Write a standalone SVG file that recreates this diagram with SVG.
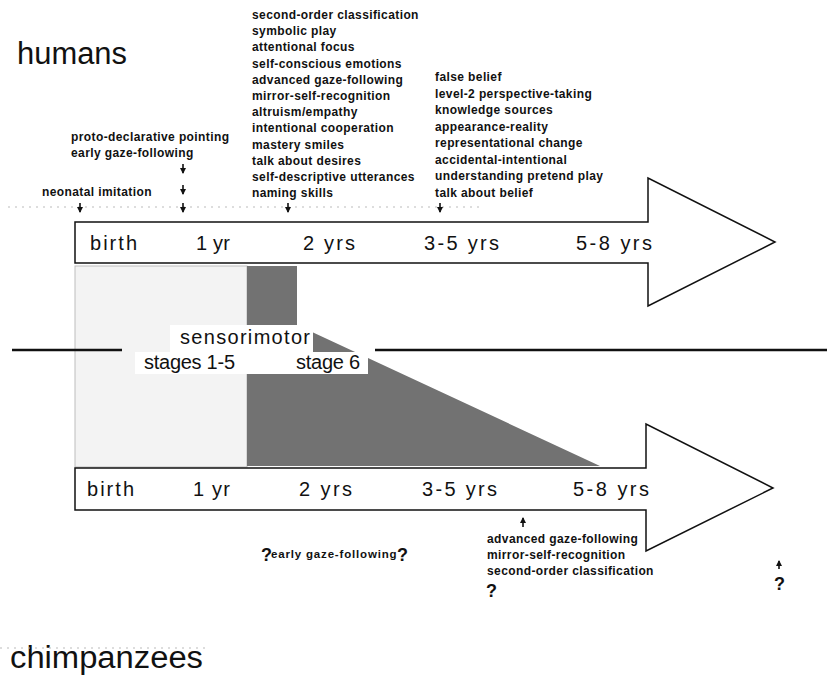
<svg xmlns="http://www.w3.org/2000/svg" width="827" height="678" viewBox="0 0 827 678">
<defs>
<style>
.sm{font-family:"Liberation Sans",Arial,sans-serif;font-weight:bold;font-size:12px;letter-spacing:0.4px;fill:#111}
.ax{font-family:"Liberation Sans",Arial,sans-serif;font-size:20px;fill:#111}
.big{font-family:"Liberation Sans",Arial,sans-serif;font-size:31px;fill:#111}
.q{font-family:"Liberation Sans",Arial,sans-serif;font-weight:bold;font-size:18px;fill:#111}
.tl{fill:#fff;stroke:#111;stroke-width:1.5}
.conn{stroke:#111;stroke-width:1.6;fill:none}
.faint{stroke:#bbb;stroke-width:1;stroke-dasharray:2 5;fill:none}
</style>
<marker id="ah" markerUnits="userSpaceOnUse" markerWidth="6" markerHeight="6" refX="5" refY="3" orient="auto" viewBox="0 0 6 6">
<path d="M0,0 L6,3 L0,6 Z" fill="#111"/>
</marker>
</defs>
<rect width="827" height="678" fill="#fff"/>

<g id="title-humans"><text class="big" x="17" y="64" textLength="110" lengthAdjust="spacingAndGlyphs">humans</text></g>
<g id="title-chimpanzees"><text class="big" x="10" y="668" textLength="193" lengthAdjust="spacingAndGlyphs">chimpanzees</text></g>

<g id="faint-lines">
<path class="faint" d="M8,207 H480"/>
<path class="faint" d="M0,648 H210"/>
</g>

<g id="sensorimotor">
<rect x="75" y="266" width="172" height="201" fill="#f3f3f3" stroke="#bdbdbd" stroke-width="1"/>
<polygon points="247,266 297,266 297,325 600,466 247,466" fill="#727272"/>
<rect x="170" y="325" width="143" height="28" fill="#fff"/>
<rect x="135" y="352" width="233" height="22" fill="#fff"/>
<text class="ax" x="180" y="344" textLength="130" lengthAdjust="spacing">sensorimotor</text>
<text class="ax" x="144" y="369" textLength="91" lengthAdjust="spacing">stages 1-5</text>
<text class="ax" x="296" y="369" textLength="64" lengthAdjust="spacing">stage 6</text>
</g>

<g id="divider">
<path d="M12,350 H122 M375,350 H827" stroke="#111" stroke-width="2.6" fill="none"/>
</g>

<g id="timeline-humans">
<path class="tl" d="M75,222 H648 V178 L775,242 L648,306 V263 H75 Z"/>
<text class="ax" x="90" y="250" textLength="47" lengthAdjust="spacing">birth</text>
<text class="ax" x="196" y="250" textLength="34" lengthAdjust="spacing">1 yr</text>
<text class="ax" x="303" y="250" textLength="52" lengthAdjust="spacing">2 yrs</text>
<text class="ax" x="424" y="250" textLength="75" lengthAdjust="spacing">3-5 yrs</text>
<text class="ax" x="576" y="250" textLength="76" lengthAdjust="spacing">5-8 yrs</text>
</g>

<g id="timeline-chimpanzees">
<path class="tl" d="M75,468 H646 V424 L773,488 L646,551 V510 H75 Z"/>
<text class="ax" x="87" y="496" textLength="47" lengthAdjust="spacing">birth</text>
<text class="ax" x="193" y="496" textLength="37" lengthAdjust="spacing">1 yr</text>
<text class="ax" x="299" y="496" textLength="53" lengthAdjust="spacing">2 yrs</text>
<text class="ax" x="422" y="496" textLength="75" lengthAdjust="spacing">3-5 yrs</text>
<text class="ax" x="573" y="496" textLength="76" lengthAdjust="spacing">5-8 yrs</text>
</g>

<g id="label-neonatal"><text class="sm" x="42" y="196">neonatal imitation</text></g>
<g id="label-1yr">
<text class="sm" x="71" y="141">proto-declarative pointing</text>
<text class="sm" x="71" y="157">early gaze-following</text>
</g>
<g id="label-2yrs">
<text class="sm" x="252" y="19">second-order classification</text>
<text class="sm" x="252" y="35.2">symbolic play</text>
<text class="sm" x="252" y="51.4">attentional focus</text>
<text class="sm" x="252" y="67.6">self-conscious emotions</text>
<text class="sm" x="252" y="83.8">advanced gaze-following</text>
<text class="sm" x="252" y="100">mirror-self-recognition</text>
<text class="sm" x="252" y="116.2">altruism/empathy</text>
<text class="sm" x="252" y="132.4">intentional cooperation</text>
<text class="sm" x="252" y="148.6">mastery smiles</text>
<text class="sm" x="252" y="164.8">talk about desires</text>
<text class="sm" x="252" y="181">self-descriptive utterances</text>
<text class="sm" x="252" y="197.2">naming skills</text>
</g>
<g id="label-3-5yrs">
<text class="sm" x="435" y="81">false belief</text>
<text class="sm" x="435" y="97.5">level-2 perspective-taking</text>
<text class="sm" x="435" y="114">knowledge sources</text>
<text class="sm" x="435" y="130.5">appearance-reality</text>
<text class="sm" x="435" y="147">representational change</text>
<text class="sm" x="435" y="163.5">accidental-intentional</text>
<text class="sm" x="435" y="180">understanding pretend play</text>
<text class="sm" x="435" y="196.5">talk about belief</text>
</g>

<g id="label-chimp-early">
<text class="q" x="261" y="561">?</text>
<text class="sm" x="271" y="558" style="font-size:11.5px" textLength="126" lengthAdjust="spacing">early gaze-following</text>
<text class="q" x="397" y="561">?</text>
</g>
<g id="label-chimp-late">
<text class="sm" x="487" y="543">advanced gaze-following</text>
<text class="sm" x="487" y="559">mirror-self-recognition</text>
<text class="sm" x="487" y="575">second-order classification</text>
<text class="q" x="486" y="597">?</text>
</g>
<g id="label-chimp-end"><text class="q" x="774" y="590">?</text></g>

<g id="connectors">
<line class="conn" x1="80" y1="203" x2="80" y2="212" marker-end="url(#ah)"/>
<line class="conn" x1="183" y1="164" x2="183" y2="173" marker-end="url(#ah)"/>
<line class="conn" x1="183" y1="185" x2="183" y2="194" marker-end="url(#ah)"/>
<line class="conn" x1="183" y1="203" x2="183" y2="212" marker-end="url(#ah)"/>
<line class="conn" x1="288" y1="203" x2="288" y2="212" marker-end="url(#ah)"/>
<line class="conn" x1="440" y1="203" x2="440" y2="212" marker-end="url(#ah)"/>
<line class="conn" x1="523" y1="527" x2="523" y2="518" marker-end="url(#ah)"/>
<line class="conn" x1="779" y1="569" x2="779" y2="561" marker-end="url(#ah)"/>
</g>
</svg>
